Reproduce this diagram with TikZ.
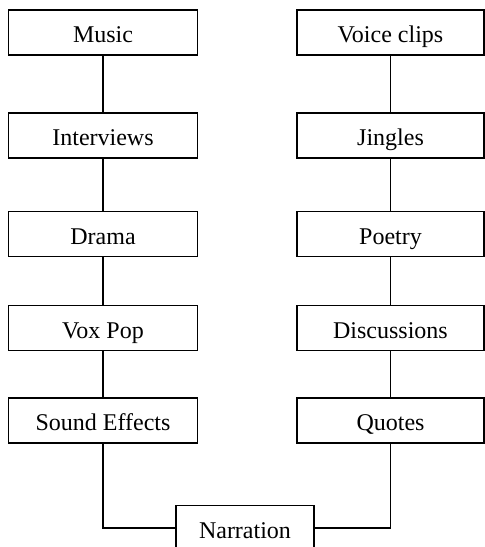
\documentclass[tikz,border=0pt]{standalone}
\usepackage{fontspec}
\setmainfont{Liberation Serif}
\begin{document}
\begin{tikzpicture}[x=0.5pt,y=-0.5pt,
  itembox/.style={draw,line width=0.65pt,fill=white,minimum height=22.5pt,inner sep=0pt,
    text height=11pt,text depth=0.6pt,font=\fontsize{12}{14}\selectfont},
  leftbox/.style={itembox,minimum width=94.5pt},
  rightbox/.style={itembox,minimum width=93.5pt},
  link/.style={line width=0.65pt}]
\useasboundingbox (0,0) rectangle (485,547);
\clip (0,0) rectangle (485,547);
% left column
\node[leftbox] (music) at (103,32.5) {Music};
\node[leftbox] (interviews) at (103,135.5) {Interviews};
\node[leftbox] (drama) at (103,234) {Drama};
\node[leftbox] (voxpop) at (103,328) {Vox Pop};
\node[leftbox] (sfx) at (103,420.5) {Sound Effects};
% right column
\node[rightbox] (voice) at (390.5,32.5) {Voice clips};
\node[rightbox] (jingles) at (390.5,135.5) {Jingles};
\node[rightbox] (poetry) at (390.5,234) {Poetry};
\node[rightbox] (discussions) at (390.5,328) {Discussions};
\node[rightbox] (quotes) at (390.5,420.5) {Quotes};
% bottom node, cut off by the lower edge
\node[itembox,minimum width=69pt] (narration) at (245,528) {Narration};
% connectors
\draw[link] (music) -- (interviews);
\draw[link] (interviews) -- (drama);
\draw[link] (drama) -- (voxpop);
\draw[link] (voxpop) -- (sfx);
\draw[link] (voice) -- (jingles);
\draw[link] (jingles) -- (poetry);
\draw[link] (poetry) -- (discussions);
\draw[link] (discussions) -- (quotes);
\draw[link] (sfx.south) |- (narration.west);
\draw[link] (narration.east) -| (quotes.south);
\end{tikzpicture}
\end{document}
